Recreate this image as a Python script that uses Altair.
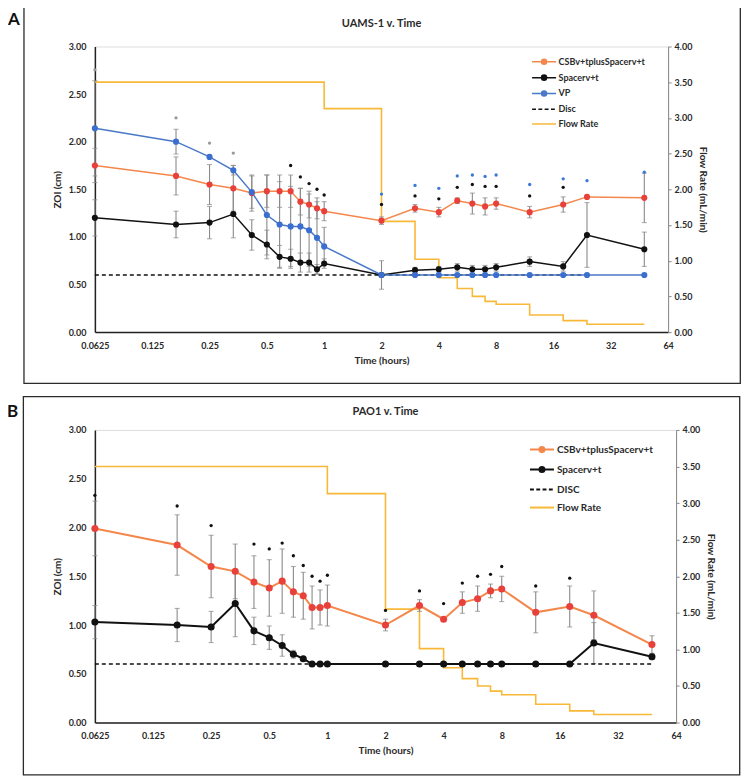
import altair as alt
import pandas as pd

FONT = "Lato"

# ---------------- data ----------------
T = [0.0625, 0.1667, 0.25, 0.3333, 0.4167, 0.5, 0.5833, 0.6667, 0.75, 0.8333, 0.9167, 1,
     2, 3, 4, 5, 6, 7, 8, 12, 18, 24, 48]

X_TICKS = [0.0625, 0.125, 0.25, 0.5, 1, 2, 4, 8, 16, 32, 64]
ZOI_TICKS = [0, 0.5, 1.0, 1.5, 2.0, 2.5, 3.0]
FLOW_TICKS = [0, 0.5, 1.0, 1.5, 2.0, 2.5, 3.0, 3.5, 4.0]

# Panel A (UAMS-1)
A_csb = [1.75, 1.64, 1.55, 1.51, 1.46, 1.48, 1.48, 1.48, 1.37, 1.34, 1.30, 1.27,
         1.17, 1.30, 1.26, 1.38, 1.35, 1.32, 1.35, 1.26, 1.34, 1.42, 1.41]
A_csb_err = [0.18, 0.20, 0.21, 0.24, 0.19, 0.17, 0.17, 0.17, 0.14, 0.14, 0.11, 0.10,
             0.04, 0.04, 0.05, 0.03, 0.11, 0.09, 0.06, 0.06, 0.08, 0.0, 0.26]
A_sp = [1.20, 1.13, 1.15, 1.24, 1.02, 0.92, 0.79, 0.77, 0.73, 0.73, 0.66, 0.72,
        0.60, 0.65, 0.66, 0.68, 0.66, 0.66, 0.68, 0.74, 0.69, 1.02, 0.87]
A_sp_err = [0.19, 0.14, 0.17, 0.25, 0.16, 0.15, 0.12, 0.10, 0.10, 0.10, 0.05, 0.05,
            0.15, 0.03, 0.03, 0.04, 0.04, 0.04, 0.04, 0.05, 0.05, 0.34, 0.18]
A_vp = [2.14, 2.00, 1.84, 1.70, 1.47, 1.23, 1.13, 1.11, 1.11, 1.07, 0.99, 0.90,
        0.60, 0.60, 0.60, 0.60, 0.60, 0.60, 0.60, 0.60, 0.60, 0.60, 0.60]
A_vp_err = [0.50, 0.13, 0.0, 0.05, 0.17, 0.42, 0.45, 0.42, 0.40, 0.38, 0.38, 0.20,
            0, 0, 0, 0, 0, 0, 0, 0, 0, 0, 0]
A_ast_gray_t = [0.0625, 0.1667, 0.25, 0.3333]
A_ast_gray_v = [2.755, 2.25, 1.985, 1.88]
A_ast_black_t = [0.6667, 0.75, 0.8333, 0.9167, 1, 2, 3, 4, 5, 6, 7, 8, 12, 18]
A_ast_black_v = [1.75, 1.63, 1.56, 1.50, 1.44, 1.34, 1.43, 1.40, 1.52, 1.55, 1.53, 1.53, 1.43, 1.52]
A_ast_blue_t = [2, 3, 4, 5, 6, 7, 8, 12, 18, 24, 48]
A_ast_blue_v = [1.45, 1.54, 1.51, 1.64, 1.65, 1.635, 1.65, 1.55, 1.61, 1.59, 1.68]

# Panel B (PAO1)
B_csb = [1.99, 1.82, 1.60, 1.55, 1.44, 1.38, 1.45, 1.34, 1.30, 1.18, 1.18, 1.20,
         1.00, 1.20, 1.06, 1.23, 1.27, 1.35, 1.37, 1.13, 1.19, 1.10, 0.80]
B_csb_err = [0.28, 0.31, 0.32, 0.28, 0.27, 0.29, 0.33, 0.26, 0.24, 0.22, 0.18, 0.21,
             0.06, 0.06, 0.0, 0.11, 0.13, 0.07, 0.13, 0.21, 0.21, 0.25, 0.09]
B_sp = [1.03, 1.00, 0.98, 1.22, 0.94, 0.87, 0.79, 0.70, 0.655, 0.60, 0.60, 0.60,
        0.60, 0.60, 0.60, 0.60, 0.60, 0.60, 0.60, 0.60, 0.60, 0.815, 0.675]
B_sp_err = [0.17, 0.17, 0.16, 0.34, 0.14, 0.12, 0.11, 0.04, 0.02, 0, 0, 0,
            0, 0, 0, 0, 0, 0, 0, 0, 0, 0.21, 0.03]
B_ast_black_t = [0.0625, 0.1667, 0.25, 0.4167, 0.5, 0.5833, 0.6667, 0.75, 0.8333, 0.9167, 1,
                 2, 3, 4, 5, 6, 7, 8, 12, 18]
B_ast_black_v = [2.33, 2.22, 2.02, 1.83, 1.78, 1.84, 1.71, 1.61, 1.50, 1.45, 1.51,
                 1.15, 1.35, 1.22, 1.43, 1.50, 1.52, 1.60, 1.40, 1.48]

FLOW_T = [0.0625, 1, 2, 3, 4, 5, 6, 7, 8, 12, 18, 24, 48]
A_flow = [3.5, 3.13, 1.55, 1.02, 0.76, 0.61, 0.50, 0.43, 0.39, 0.24, 0.16, 0.11, 0.11]
B_flow = [3.5, 3.13, 1.55, 1.01, 0.75, 0.60, 0.50, 0.43, 0.38, 0.25, 0.16, 0.11, 0.11]

DISC = 0.6
A_disc_t = [0.0625, 24]
B_disc_t = [0.0625, 48]

# ---------------- styling ----------------
C_CSB_LINE, C_CSB_PT = "#F4874B", "#E8403A"
C_SP = "#111111"
C_VP_LINE, C_VP_PT = "#4A78C8", "#3A6FD0"
C_FLOW = "#F9B938"
C_ERR = "#8A8A8A"
C_TEXT = "#2a2a2a"

DOTLINE = "M-2,0H2M-0.42,0A0.42,0.42 0 1,0 0.42,0A0.42,0.42 0 1,0 -0.42,0Z"
DASHLINE = "M-2,0H-1.35M-0.95,0H-0.3M0.1,0H0.75M1.15,0H1.8"
PLAINLINE = "M-2,0H2"


def xenc():
    return alt.X("t:Q",
                 scale=alt.Scale(type="log", base=2, domain=[0.0625, 64], nice=False),
                 axis=alt.Axis(values=X_TICKS, format="~g", grid=False, ticks=False,
                               labelPadding=9, labelFont=FONT, labelFontSize=9,
                               labelFontWeight="bold", labelColor=C_TEXT,
                               domainColor="#222", domainWidth=1.5,
                               title="Time (hours)", titleFont=FONT, titleFontSize=10,
                               titleFontWeight="bold", titleColor=C_TEXT, titlePadding=5,
                               labelFlush=False))


def yenc(field):
    return alt.Y(f"{field}:Q",
                 scale=alt.Scale(domain=[0, 3], nice=False),
                 axis=alt.Axis(orient="left", values=ZOI_TICKS, format=".2f", grid=False,
                               ticks=False, labelPadding=9, labelFont=FONT, labelFontSize=9,
                               labelFontWeight="bold", labelColor=C_TEXT,
                               domainColor="#222", domainWidth=1.5,
                               title="ZOI (cm)", titleFont=FONT, titleFontSize=10,
                               titleFontWeight="bold", titleColor=C_TEXT, titlePadding=6))


def build_panel(letter, title, series, flow, disc_t, asts, legend_names, legend_kinds,
                legend_colors, w, h, frame, letter_pos, title_y, leg):
    rows = []
    for s in series:
        for t, v, e in zip(T, s["vals"], s["errs"]):
            rows.append({"t": t, "v": v, "lo": v - e, "hi": v + e, "e": e, "s": s["name"]})
    df = pd.DataFrame(rows)

    err = alt.Chart(df).transform_filter("datum.e > 0")
    err_rule = err.mark_rule(color=C_ERR, strokeWidth=1.1).encode(
        x=xenc(), y=yenc("lo"), y2="hi:Q")
    cap_hi = err.mark_tick(color=C_ERR, orient="horizontal", size=5, thickness=1.1).encode(
        x=xenc(), y=yenc("hi"))
    cap_lo = err.mark_tick(color=C_ERR, orient="horizontal", size=5, thickness=1.1).encode(
        x=xenc(), y=yenc("lo"))

    disc_df = pd.DataFrame({"t": disc_t, "v": [DISC] * len(disc_t)})
    disc = alt.Chart(disc_df).mark_line(color="#111", strokeDash=[4, 3], strokeWidth=1.6).encode(
        x=xenc(), y=yenc("v"))

    series_layers = []
    for s in series:
        base = alt.Chart(df).transform_filter(alt.datum.s == s["name"])
        series_layers.append(base.mark_line(color=s["line"], strokeWidth=s["lw"]).encode(
            x=xenc(), y=yenc("v")))
    pts_layers = []
    for s in series:
        base = alt.Chart(df).transform_filter(alt.datum.s == s["name"])
        pts_layers.append(base.mark_point(filled=True, opacity=1, color=s["pt"],
                                          size=s["size"]).encode(x=xenc(), y=yenc("v")))

    arow = []
    for ts, vs, c in asts:
        for t, v in zip(ts, vs):
            arow.append({"t": t, "v": v, "c": c})
    ast_df = pd.DataFrame(arow)
    ast = alt.Chart(ast_df).mark_point(filled=True, opacity=1, size=11, shape="circle").encode(
        x=xenc(), y=yenc("v"), color=alt.Color("c:N", scale=None))

    shapes = {"dot": DOTLINE, "dash": DASHLINE, "line": PLAINLINE}
    shape_range = [shapes[k] for k in legend_kinds]
    lg = alt.Legend(orient="none", legendX=leg["x"], legendY=leg["y"], title=None,
                    direction="vertical", padding=0, symbolSize=144,
                    symbolStrokeWidth=leg["sw"], labelOffset=leg["off"],
                    labelFont=FONT, labelFontSize=leg["fs"], labelFontWeight="bold",
                    labelColor=C_TEXT, rowPadding=leg["rp"], symbolOpacity=1)
    leg_df = pd.DataFrame({"s": legend_names})
    legend_layer = alt.Chart(leg_df).transform_filter("false").mark_point(filled=True).encode(
        x=alt.value(0), y=alt.value(0),
        fill=alt.Fill("s:N", scale=alt.Scale(domain=legend_names, range=legend_colors), legend=lg),
        stroke=alt.Stroke("s:N", scale=alt.Scale(domain=legend_names, range=legend_colors), legend=lg),
        shape=alt.Shape("s:N", scale=alt.Scale(domain=legend_names, range=shape_range), legend=lg),
    )

    zoi = alt.layer(err_rule, cap_hi, cap_lo, disc, *series_layers, *pts_layers, ast, legend_layer)

    flow_df = pd.DataFrame({"t": FLOW_T, "f": flow})
    flow_layer = alt.Chart(flow_df).mark_line(color=C_FLOW, strokeWidth=1.6,
                                              interpolate="step-after").encode(
        x=xenc(),
        y=alt.Y("f:Q", scale=alt.Scale(domain=[0, 4], nice=False),
                axis=alt.Axis(orient="right", values=FLOW_TICKS, format=".2f", grid=False,
                              tickSize=3, tickColor="#888", labelPadding=3,
                              labelFont=FONT, labelFontSize=9, labelFontWeight="bold",
                              labelColor=C_TEXT, domainColor="#888", domainWidth=1,
                              title="Flow Rate (mL/min)", titleFont=FONT, titleFontSize=10,
                              titleFontWeight="bold", titleColor=C_TEXT, titlePadding=6)))

    one = pd.DataFrame({"a": [0]})
    box = alt.Chart(one).mark_rect(fillOpacity=0, stroke="#2b2b2b", strokeWidth=1.3).encode(
        x=alt.value(frame[0]), x2=alt.value(w + frame[1]),
        y=alt.value(frame[2]), y2=alt.value(h + frame[3]))
    letter_mark = alt.Chart(one).mark_text(font=FONT, fontSize=17, fontWeight="bold",
                                           color="#111", align="center", baseline="middle").encode(
        x=alt.value(letter_pos[0]), y=alt.value(letter_pos[1]), text=alt.value(letter))
    title_mark = alt.Chart(one).mark_text(font=FONT, fontSize=11, fontWeight="bold",
                                          color=C_TEXT, align="center", baseline="middle").encode(
        x=alt.value(w / 2), y=alt.value(title_y), text=alt.value(title))

    return alt.layer(box, letter_mark, title_mark, flow_layer, zoi).resolve_scale(
        y="independent").properties(width=w, height=h)


panel_a = build_panel(
    "A", "UAMS-1 v. Time",
    [
        {"name": "CSB", "vals": A_csb, "errs": A_csb_err, "line": C_CSB_LINE, "pt": C_CSB_PT, "lw": 1.5, "size": 38},
        {"name": "Spacer", "vals": A_sp, "errs": A_sp_err, "line": C_SP, "pt": C_SP, "lw": 1.5, "size": 38},
        {"name": "VP", "vals": A_vp, "errs": A_vp_err, "line": C_VP_LINE, "pt": C_VP_PT, "lw": 1.5, "size": 38},
    ],
    A_flow, A_disc_t,
    [(A_ast_gray_t, A_ast_gray_v, "#9a9a9a"), (A_ast_black_t, A_ast_black_v, "#111111"),
     (A_ast_blue_t, A_ast_blue_v, "#3A78D6")],
    ["CSBv+tplusSpacerv+t", "Spacerv+t", "VP", "Disc", "Flow Rate"],
    ["dot", "dot", "dot", "dash", "line"],
    [C_CSB_LINE, C_SP, C_VP_LINE, "#111111", C_FLOW],
    574, 286, (-71, 72.3, -41, 51.4), (-81, -27), -22.6,
    {"x": 442.8, "y": 8.4, "fs": 9, "rp": 2.8, "off": 7.5, "sw": 1.5},
)

panel_b = build_panel(
    "B", "PAO1 v. Time",
    [
        {"name": "CSB", "vals": B_csb, "errs": B_csb_err, "line": C_CSB_LINE, "pt": C_CSB_PT, "lw": 2, "size": 50},
        {"name": "Spacer", "vals": B_sp, "errs": B_sp_err, "line": C_SP, "pt": C_SP, "lw": 2, "size": 50},
    ],
    B_flow, B_disc_t,
    [(B_ast_black_t, B_ast_black_v, "#111111")],
    ["CSBv+tplusSpacerv+t", "Spacerv+t", "DISC", "Flow Rate"],
    ["dot", "dot", "dash", "line"],
    [C_CSB_LINE, C_SP, "#111111", C_FLOW],
    582, 293, (-71.6, 63.7, -33.3, 52.3), (-82.3, -18), -18,
    {"x": 440.7, "y": 12.7, "fs": 10, "rp": 6, "off": 8, "sw": 2},
)

chart = alt.vconcat(panel_a, panel_b, spacing=10,
                    padding={"top": -5, "left": -2, "right": 0, "bottom": 0}).resolve_scale(
    fill="independent", stroke="independent", shape="independent"
).resolve_legend(
    fill="independent", stroke="independent", shape="independent"
).configure_view(stroke="#555", strokeWidth=1).configure(background="white")

chart.save("out.html", embed_options={"renderer": "svg", "actions": False})
